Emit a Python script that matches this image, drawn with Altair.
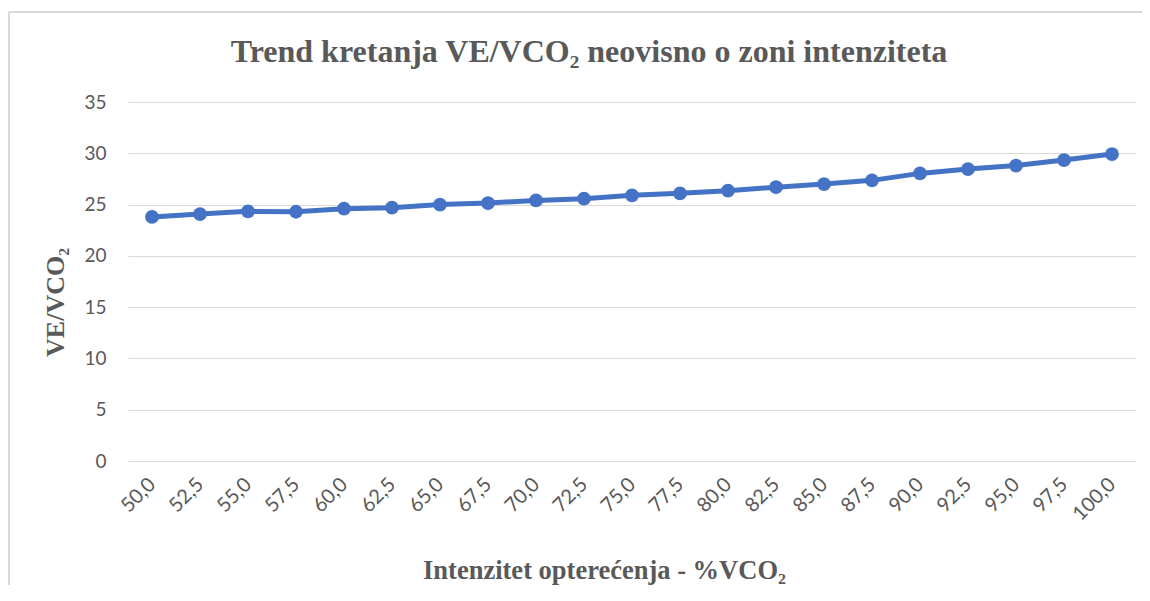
import altair as alt
import pandas as pd

intensity = ["50,0", "52,5", "55,0", "57,5", "60,0", "62,5", "65,0", "67,5", "70,0",
             "72,5", "75,0", "77,5", "80,0", "82,5", "85,0", "87,5", "90,0", "92,5",
             "95,0", "97,5", "100,0"]
ve_vco2 = [23.8, 24.07, 24.34, 24.3, 24.6, 24.7, 25.0, 25.15, 25.4, 25.57, 25.9,
           26.1, 26.35, 26.7, 27.0, 27.36, 28.04, 28.46, 28.8, 29.34, 29.92]
title_text = ["Trend kretanja VE/VCO₂ neovisno o zoni intenziteta"]

df = pd.DataFrame({"x": intensity, "y": ve_vco2})
tdf = pd.DataFrame({"t": title_text})

GRAY = "#595959"
BLUE = "#4472C4"

x_enc = alt.X("x:N", sort=intensity, scale=alt.Scale(type="point", padding=0.5),
              axis=alt.Axis(title="Intenzitet opterećenja - %VCO₂", labelAngle=-45,
                            labelAlign="right", labelBaseline="middle",
                            labelPadding=20, labelFont="Lato", labelFontSize=20,
                            labelColor=GRAY, domain=False, ticks=False, grid=False,
                            titleFont="Liberation Serif", titleFontSize=26.5,
                            titleFontWeight="bold", titleColor=GRAY,
                            titleX=476, titleY=109, titleBaseline="middle",
                            titleAlign="center"))
y_enc = alt.Y("y:Q", scale=alt.Scale(domain=[0, 35], nice=False),
              axis=alt.Axis(title="VE/VCO₂", values=[0, 5, 10, 15, 20, 25, 30, 35],
                            labelFont="Lato", labelFontSize=19, labelColor=GRAY,
                            labelPadding=22, domain=False, ticks=False,
                            grid=True, gridColor="#d9d9d9", gridWidth=1,
                            titleFont="Liberation Serif", titleFontSize=26,
                            titleFontWeight="bold", titleColor=GRAY,
                            titleX=-73, titleY=200, titleAngle=-90,
                            titleBaseline="middle", titleAlign="center"))

line = alt.Chart(df).mark_line(color=BLUE, strokeWidth=5).encode(x=x_enc, y=y_enc)
pts = alt.Chart(df).mark_point(filled=True, color=BLUE, size=190, opacity=1).encode(
    x=alt.X("x:N", sort=intensity), y="y:Q")

border_left = alt.Chart(df).mark_rule(color="#d9d9d9", strokeWidth=1.5).encode(
    x=alt.value(-119), y=alt.value(-90), y2=alt.value(600))
border_top = alt.Chart(df).mark_rule(color="#d9d9d9", strokeWidth=1.5).encode(
    x=alt.value(-119), x2=alt.value(1030), y=alt.value(-90))

title = alt.Chart(tdf).mark_text(font="Liberation Serif", fontSize=32, fontWeight="bold",
                                 color=GRAY, align="center", baseline="middle").encode(
    text="t:N", x=alt.value(461), y=alt.value(-50))

chart = alt.layer(border_left, border_top, line, pts, title).properties(
    width=1008, height=359,
    padding={"left": 120, "top": 94, "right": 6, "bottom": 124},
    autosize=alt.AutoSizeParams(type="none"),
).configure_view(stroke=None)

chart.save("out.html", embed_options={"renderer": "svg", "actions": False})
